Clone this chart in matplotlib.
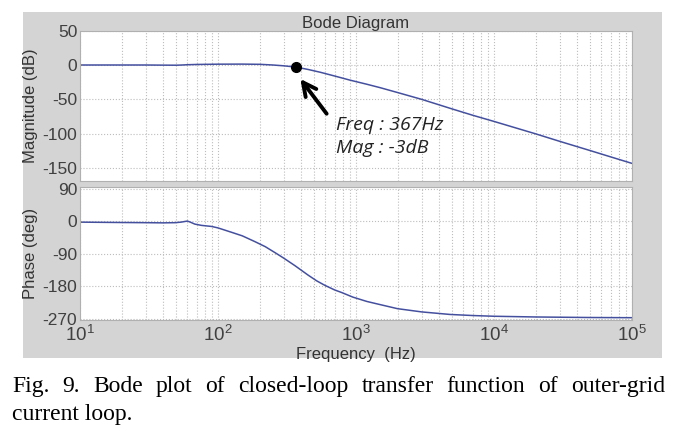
import numpy as np
import matplotlib
matplotlib.use('Agg')
import matplotlib.pyplot as plt
from matplotlib.patches import Rectangle
from matplotlib.ticker import LogLocator, FixedLocator

# magnitude curve
freq_mag = [10, 20, 30, 40, 50, 55, 60, 70, 100, 150, 200, 250, 300, 367, 450, 550,
            700, 905, 1200, 1500, 2000, 3000, 5000, 7000, 1e4, 2e4, 3e4, 5e4, 7e4, 1e5]
mag_db = [0, 0, 0, -0.2, -0.3, 0, 0.4, 0.8, 1.2, 1.3, 1.0, 0.0, -1.2, -3, -6.5, -10.5,
          -16, -22, -28, -33, -40, -50, -64, -73, -82, -100, -111, -124.5, -133.5, -143]

# phase curve
freq_ph = [10, 20, 30, 40, 49, 54, 60, 63, 68, 76, 90, 100, 125, 150, 185, 220, 260, 300,
           362, 450, 520, 593, 700, 785, 950, 1200, 1470, 2000, 3000, 4800, 7000, 1e4,
           2e4, 5e4, 1e5]
phase_deg = [-2, -3, -3.5, -4, -3.5, -2, 1, -2, -7.5, -11, -14, -18, -30, -40, -56, -70,
             -87, -102, -123, -149, -165, -177, -190, -197, -210, -222, -230, -242, -251,
             -258, -261, -263, -265, -266.5, -267]

# marked point
mark_f, mark_db = 367, -3
note_lines = ['Freq : 367Hz', 'Mag : -3dB']

plt.rcParams['axes.unicode_minus'] = False
plt.rcParams['font.family'] = ['Liberation Sans Narrow', 'Liberation Sans', 'DejaVu Sans']
plt.rcParams['mathtext.fontset'] = 'custom'
plt.rcParams['mathtext.rm'] = 'Liberation Sans Narrow'
plt.rcParams['mathtext.it'] = 'Liberation Sans Narrow:italic'

W, H = 685, 434
fig = plt.figure(figsize=(W / 100, H / 100), dpi=100)
fig.patch.set_facecolor('white')

def fx(px):
    return px / W

def fy(py):
    return 1 - py / H

# gray matlab-style panel, behind the axes
fig.patches.append(Rectangle((fx(23), fy(358)), fx(662) - fx(23), fy(12) - fy(358),
                             transform=fig.transFigure, facecolor='#d4d4d4',
                             edgecolor='none', zorder=-5))

ax1 = fig.add_axes([fx(80), fy(180.6), fx(632) - fx(80), fy(30.6) - fy(180.6)])
ax2 = fig.add_axes([fx(80), fy(319.5), fx(632) - fx(80), fy(186.8) - fy(319.5)])

line_col = '#44509e'
txt_col = '#333333'
grid_kw = dict(color='#bdbdbd', linestyle=':', linewidth=0.8)

for ax in (ax1, ax2):
    ax.set_xscale('log')
    ax.set_xlim(10, 1e5)
    ax.set_facecolor('white')
    ax.xaxis.set_major_locator(LogLocator(base=10, numticks=10))
    ax.xaxis.set_minor_locator(LogLocator(base=10, subs=np.arange(2, 10), numticks=10))
    ax.grid(True, which='major', **grid_kw)
    ax.grid(True, which='minor', axis='x', **grid_kw)
    for s in ax.spines.values():
        s.set_color('#b0b0b0')
        s.set_linewidth(0.8)
    ax.tick_params(which='both', length=0, labelsize=12.5, labelcolor='#404040', pad=2)

ax1.plot(freq_mag, mag_db, color=line_col, lw=1.1)
ax1.set_ylim(-168, 50)
ax1.yaxis.set_major_locator(FixedLocator([50, 0, -50, -100, -150]))
ax1.tick_params(axis='x', labelbottom=False)
ax1.set_ylabel('Magnitude (dB)', fontsize=12, color=txt_col, labelpad=3)
ax1.set_title('Bode Diagram', fontsize=12, color=txt_col, pad=2)

ax1.plot([mark_f], [mark_db], 'o', color='black', ms=7, zorder=5)
ax1.annotate('', xy=(384, -17), xytext=(630, -74),
             arrowprops=dict(arrowstyle='->', lw=2.8, color='black', mutation_scale=24))
for txt, yv in zip(note_lines, [-87, -120]):
    ax1.text(716, yv, txt, fontsize=14, style='italic', family='Open Sans',
             color='#222222', va='center', ha='left')

ax2.plot(freq_ph, phase_deg, color=line_col, lw=1.1)
ax2.set_ylim(-272, 96)
ax2.yaxis.set_major_locator(FixedLocator([90, 0, -90, -180, -270]))
ax2.set_ylabel('Phase (deg)', fontsize=12, color=txt_col, labelpad=3)
ax2.set_xlabel('Frequency  (Hz)', fontsize=12, color=txt_col, labelpad=1)
ax2.tick_params(axis='x', labelsize=13.5, pad=4)

# caption, first line justified across the width
words = 'Fig. 9. Bode plot of closed-loop transfer function of outer-grid'.split()
cap_kw = dict(fontsize=17, family='Liberation Serif', color='black', va='baseline')
renderer = fig.canvas.get_renderer()
texts = [fig.text(0, fy(392), w, **cap_kw) for w in words]
widths = [t.get_window_extent(renderer).width for t in texts]
left, right = 12, 665
gap = (right - left - sum(widths)) / (len(words) - 1)
x = left
for t, w in zip(texts, widths):
    t.set_x(fx(x))
    x += w + gap
fig.text(fx(12), fy(420), 'current loop.', **cap_kw)

fig.savefig('out.png', dpi=100, facecolor='white')
